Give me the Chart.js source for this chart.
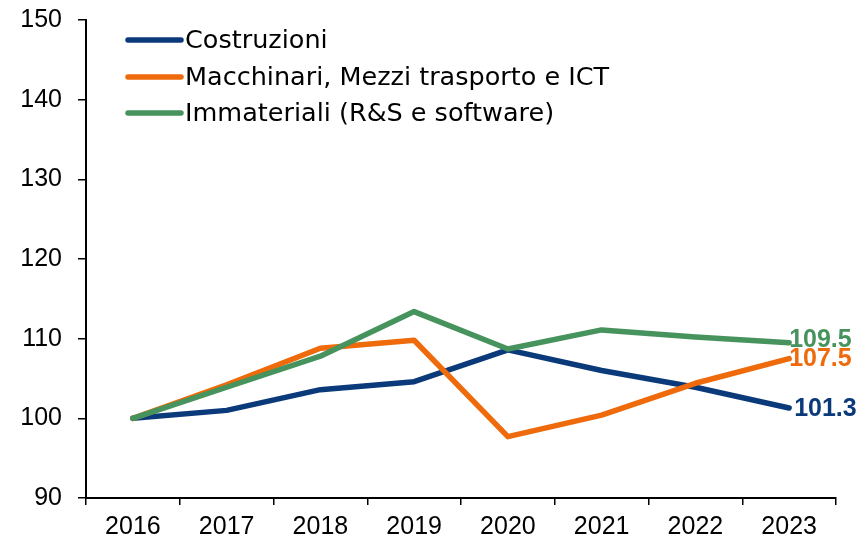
<!DOCTYPE html>
<html>
<head>
<meta charset="utf-8">
<script src="https://cdn.jsdelivr.net/npm/chart.js@4.4.1/dist/chart.umd.min.js"></script>
<style>
  html, body { margin: 0; padding: 0; background: #fff; }
  #wrap { width: 858px; height: 545px; position: relative; }
</style>
</head>
<body>
<div id="wrap"><canvas id="c" width="858" height="545"></canvas></div>
<script>
const years = ['2016', '2017', '2018', '2019', '2020', '2021', '2022', '2023'];
const costruzioni = [100, 101.0, 103.6, 104.6, 108.6, 106.0, 103.9, 101.3];
const macchinari = [100, 104.2, 108.8, 109.8, 97.7, 100.4, 104.4, 107.5];
const immateriali = [100, 103.9, 107.8, 113.4, 108.7, 111.1, 110.2, 109.5];
const seriesNames = ['Costruzioni', 'Macchinari, Mezzi trasporto e ICT', 'Immateriali (R&S e software)'];
const seriesColors = ['#0B3A7A', '#EE6A0B', '#46935D'];
const yMin = 90, yMax = 150, yStep = 10;

const numFont = '"Liberation Sans", Arial, sans-serif';
const textFont = '"DejaVu Sans", sans-serif';

const legendPlugin = {
  id: 'customLegend',
  afterDraw(chart) {
    const ctx = chart.ctx;
    const rows = [40, 77, 113];
    ctx.save();
    chart.data.datasets.forEach((ds, i) => {
      const y = rows[i];
      ctx.strokeStyle = ds.borderColor;
      ctx.lineWidth = 5.5;
      ctx.lineCap = 'round';
      ctx.beginPath();
      ctx.moveTo(128, y);
      ctx.lineTo(181, y);
      ctx.stroke();
      ctx.fillStyle = '#000';
      ctx.font = '25.5px ' + textFont;
      ctx.textBaseline = 'middle';
      ctx.textAlign = 'left';
      ctx.fillText(ds.label, 185, y + 1);
    });
    ctx.restore();
  }
};

const endLabelPlugin = {
  id: 'endLabels',
  afterDatasetsDraw(chart) {
    const ctx = chart.ctx;
    ctx.save();
    chart.data.datasets.forEach((ds, i) => {
      const meta = chart.getDatasetMeta(i);
      const last = meta.data[meta.data.length - 1];
      const v = ds.data[ds.data.length - 1];
      ctx.fillStyle = ds.borderColor;
      ctx.font = 'bold 25px ' + numFont;
      ctx.textBaseline = 'middle';
      ctx.textAlign = 'left';
      const dy = i === 2 ? -4 : 0;
      const dx = i === 0 ? 5 : 0;
      ctx.fillText(v.toFixed(1), last.x + dx, last.y + dy + 1);
    });
    ctx.restore();
  }
};

function noPad(scale) {
  scale.paddingTop = 0;
  scale.paddingBottom = 0;
  scale.paddingLeft = 0;
  scale.paddingRight = 0;
}

new Chart(document.getElementById('c'), {
  type: 'line',
  data: {
    labels: years,
    datasets: [
      { label: seriesNames[0], data: costruzioni, borderColor: seriesColors[0], order: 2 },
      { label: seriesNames[1], data: macchinari, borderColor: seriesColors[1], order: 1 },
      { label: seriesNames[2], data: immateriali, borderColor: seriesColors[2], order: 0 }
    ].map(d => Object.assign(d, {
      backgroundColor: d.borderColor,
      borderWidth: 5.5,
      pointRadius: 0,
      pointHoverRadius: 0,
      tension: 0,
      borderJoinStyle: 'round',
      borderCapStyle: 'round',
      fill: false
    }))
  },
  options: {
    responsive: false,
    animation: false,
    layout: { padding: { left: 0, right: 22, top: 20, bottom: 0 } },
    plugins: { legend: { display: false }, tooltip: { enabled: false } },
    scales: {
      x: {
        type: 'category',
        offset: true,
        afterFit(scale) { scale.height = 47; noPad(scale); },
        border: { display: true, color: '#000', width: 2 },
        grid: { offset: true, drawOnChartArea: false, drawTicks: true, tickLength: 7, color: '#000', lineWidth: 1.5 },
        ticks: { color: '#000', font: { family: numFont, size: 25 }, padding: 7, maxRotation: 0 }
      },
      y: {
        min: yMin, max: yMax,
        afterFit(scale) { scale.width = 86; noPad(scale); },
        border: { display: true, color: '#000', width: 2 },
        grid: { drawOnChartArea: false, drawTicks: true, tickLength: 8, color: '#000', lineWidth: 1.5 },
        ticks: { stepSize: yStep, color: '#000', font: { family: numFont, size: 25 }, padding: 16 }
      }
    }
  },
  plugins: [legendPlugin, endLabelPlugin]
});
</script>
</body>
</html>
